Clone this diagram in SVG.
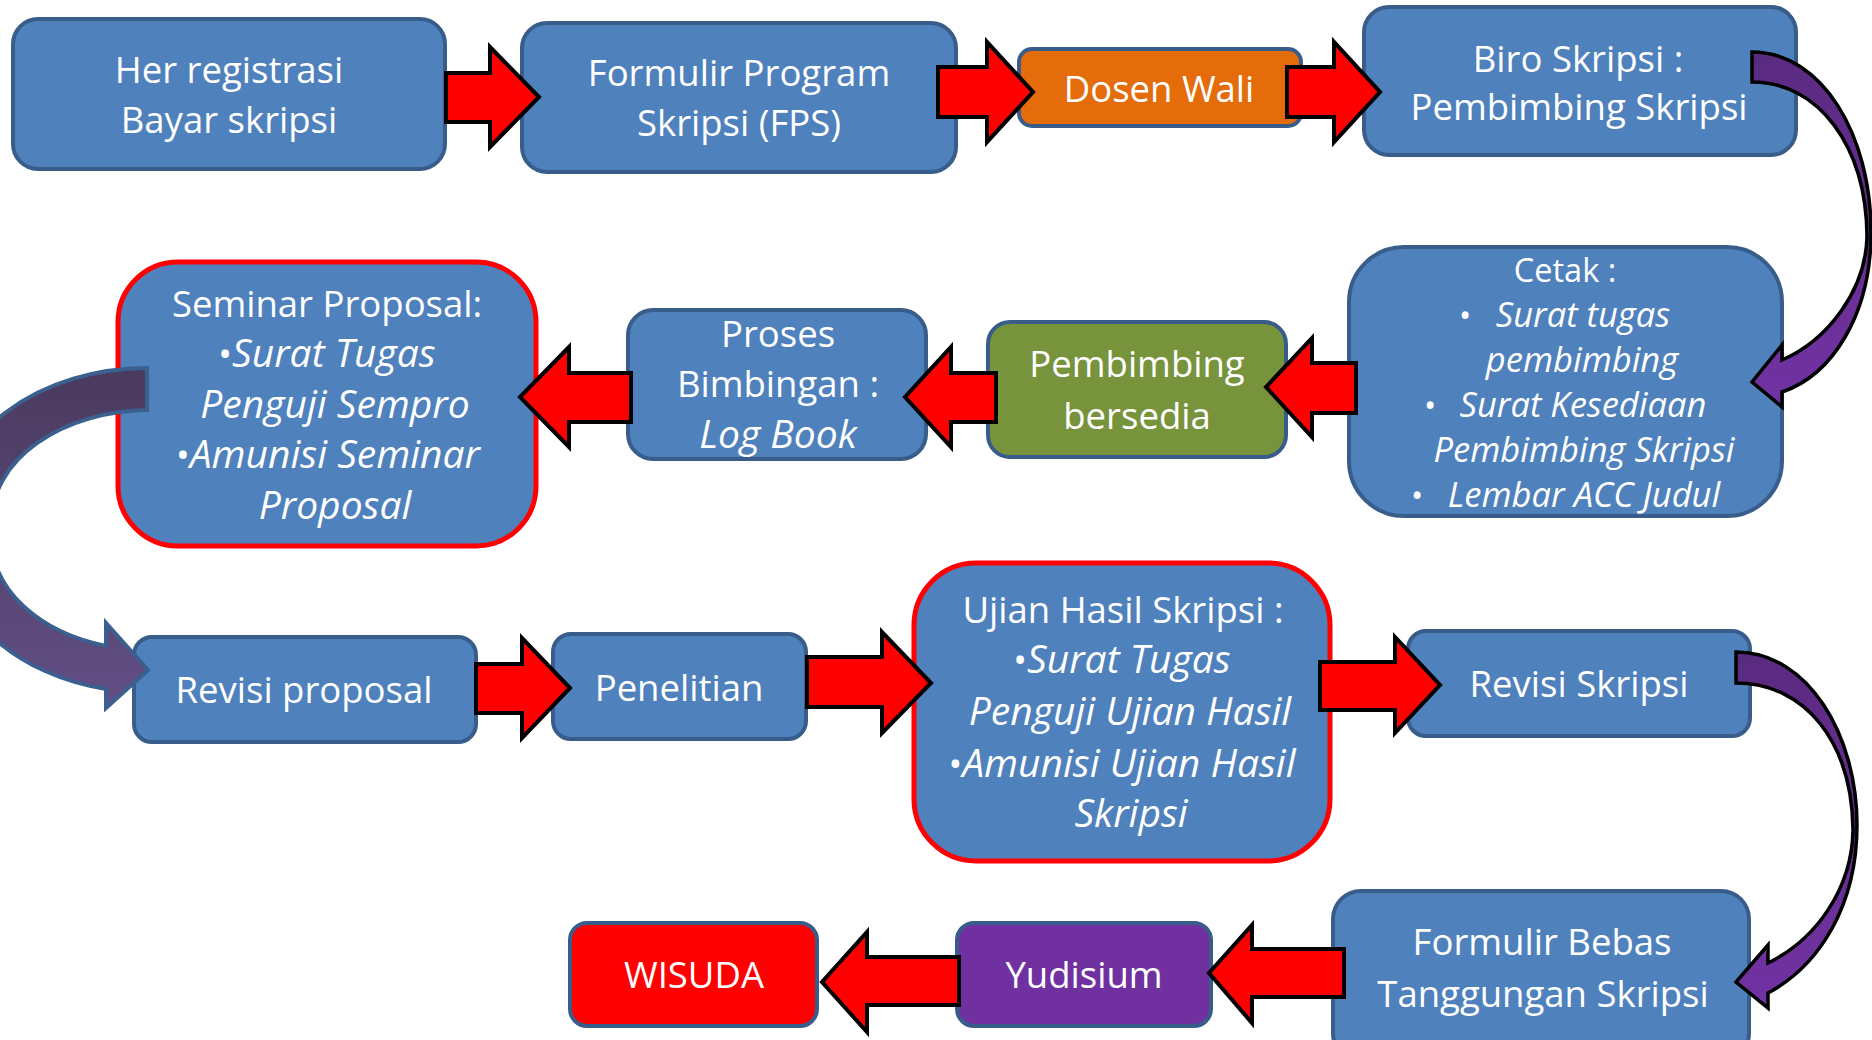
<svg xmlns="http://www.w3.org/2000/svg" width="1872" height="1040" viewBox="0 0 1872 1040">
<defs>
<style>
.box{stroke:#385d8a;stroke-width:4}
.blue{fill:#4f81bd}
.redb{fill:#4f81bd;stroke:#ff0000;stroke-width:5}
.t{font-family:"Open Sans","Noto Sans",sans-serif;font-size:36.5px;fill:#ffffff;text-anchor:middle}
.i{font-style:italic;font-size:39px}
.s{font-size:32.5px}
.si{font-style:italic;font-size:34.5px}
.ra{fill:#ff0000;stroke:#000000;stroke-width:4;stroke-linejoin:miter}
.pa{stroke:#000000;stroke-width:3.5;stroke-linejoin:miter}
</style>
<linearGradient id="gp1" gradientUnits="userSpaceOnUse" x1="0" y1="50" x2="0" y2="410">
<stop offset="0" stop-color="#5a2a80"/><stop offset="1" stop-color="#7232a3"/>
</linearGradient>
<linearGradient id="gp3" gradientUnits="userSpaceOnUse" x1="0" y1="650" x2="0" y2="1010">
<stop offset="0" stop-color="#5a2a80"/><stop offset="1" stop-color="#7232a3"/>
</linearGradient>
<linearGradient id="gp2" gradientUnits="userSpaceOnUse" x1="0" y1="365" x2="0" y2="710">
<stop offset="0" stop-color="#4a3a5e"/><stop offset="1" stop-color="#624e84"/>
</linearGradient>
</defs>
<rect width="1872" height="1040" fill="#ffffff"/>

<g id="n1"><rect class="box blue" x="13" y="19" width="432" height="150" rx="25"/>
<text class="t" x="229" y="83">Her registrasi</text><text class="t" x="229" y="133">Bayar skripsi</text></g>

<g id="n2"><rect class="box blue" x="522" y="23" width="434" height="149" rx="25"/>
<text class="t" x="739" y="86">Formulir Program</text><text class="t" x="739" y="136">Skripsi (FPS)</text></g>

<g id="n3"><rect class="box" fill="#e46c0a" x="1019" y="49" width="282" height="77" rx="13"/>
<text class="t" x="1159" y="102">Dosen Wali</text></g>

<g id="n4"><rect class="box blue" x="1364" y="7" width="432" height="148" rx="25"/>
<text class="t" x="1578" y="72">Biro Skripsi :</text><text class="t" x="1579" y="120">Pembimbing Skripsi</text></g>

<g id="n5"><rect class="box blue" x="1349" y="247" width="433" height="269" rx="55"/>
<text class="t s" x="1565" y="282">Cetak :</text>
<text class="t s" x="1465" y="327">•</text><text class="t si" x="1583" y="327">Surat tugas</text>
<text class="t si" x="1582" y="372">pembimbing</text>
<text class="t s" x="1430" y="417">•</text><text class="t si" x="1583" y="417">Surat Kesediaan</text>
<text class="t si" x="1584" y="462">Pembimbing Skripsi</text>
<text class="t s" x="1417" y="507">•</text><text class="t si" x="1584" y="507">Lembar ACC Judul</text></g>

<g id="n6"><rect class="box" fill="#77933c" x="988" y="322" width="298" height="135" rx="22"/>
<text class="t" x="1137" y="377">Pembimbing</text><text class="t" x="1137" y="429">bersedia</text></g>

<g id="n7"><rect class="box blue" x="628" y="310" width="298" height="149" rx="25"/>
<text class="t" x="778" y="347">Proses</text><text class="t" x="778" y="397">Bimbingan :</text><text class="t i" x="778" y="448">Log Book</text></g>

<g id="n8"><rect class="redb" x="118" y="262" width="418" height="284" rx="60"/>
<text class="t" x="327" y="317">Seminar Proposal:</text>
<text class="t" x="327" y="367">•<tspan class="i">Surat Tugas</tspan></text>
<text class="t i" x="335" y="418">Penguji Sempro</text>
<text class="t" x="328" y="468">•<tspan class="i">Amunisi Seminar</tspan></text>
<text class="t i" x="335" y="519">Proposal</text></g>

<g id="n9"><rect class="box blue" x="134" y="637" width="342" height="105" rx="18"/>
<text class="t" x="304" y="703">Revisi proposal</text></g>

<g id="n10"><rect class="box blue" x="553" y="634" width="253" height="105" rx="18"/>
<text class="t" x="679" y="701">Penelitian</text></g>

<g id="n11"><rect class="redb" x="914" y="563" width="416" height="298" rx="62"/>
<text class="t" x="1123" y="623">Ujian Hasil Skripsi :</text>
<text class="t" x="1122" y="673">•<tspan class="i">Surat Tugas</tspan></text>
<text class="t i" x="1130" y="725">Penguji Ujian Hasil</text>
<text class="t" x="1122" y="777">•<tspan class="i">Amunisi Ujian Hasil</tspan></text>
<text class="t i" x="1131" y="827">Skripsi</text></g>

<g id="n12"><rect class="box blue" x="1408" y="631" width="342" height="105" rx="18"/>
<text class="t" x="1579" y="697">Revisi Skripsi</text></g>

<g id="n13"><rect class="box blue" x="1333" y="891" width="416" height="170" rx="28"/>
<text class="t" x="1542" y="955">Formulir Bebas</text><text class="t" x="1543" y="1007">Tanggungan Skripsi</text></g>

<g id="n14"><rect class="box" fill="#7030a0" x="957" y="923" width="254" height="103" rx="17"/>
<text class="t" x="1084" y="988">Yudisium</text></g>

<g id="n15"><rect class="box" fill="#ff0000" x="570" y="923" width="247" height="103" rx="17"/>
<text class="t" x="694" y="988">WISUDA</text></g>

<g id="connectors">
<polygon class="ra" points="446,73 490,73 490,47 539,97 490,147 490,122 446,122"/>
<polygon class="ra" points="938,67 987,67 987,42 1033,92 987,142 987,117 938,117"/>
<polygon class="ra" points="1287,67 1334,67 1334,42 1380,92 1334,142 1334,117 1287,117"/>
<path class="pa" fill="url(#gp1)" d="M1752,52 C1822,52 1871,135 1871,232 C1871,315 1832,375 1782,392 L1782,407 L1752,382 L1782,345 L1782,360 C1828,340 1866,290 1867,236 C1866,145 1818,82 1752,82 Z"/>
<polygon class="ra" points="1356,363 1312,363 1312,338 1266,387 1312,437 1312,413 1356,413"/>
<polygon class="ra" points="996,373 951,373 951,347 905,397 951,447 951,422 996,422"/>
<polygon class="ra" points="631,373 569,373 569,347 520,397 569,447 569,422 631,422"/>
<path fill="url(#gp2)" stroke="#3b5f8e" stroke-width="4" d="M147,368 A200,152 0 0 0 -53,520 L-8,520 A158,110 0 0 1 147,410 Z"/>
<path fill="url(#gp2)" stroke="#3b5f8e" stroke-width="4" stroke-linejoin="miter" d="M-8,540 A158,110 0 0 0 106,646 L106,623 L148,670 L106,708 L106,689 A200,152 0 0 1 -53,540 Z"/>
<polygon class="ra" points="476,664 522,664 522,638 570,688 522,738 522,713 476,713"/>
<polygon class="ra" points="807,657 882,657 882,632 931,683 882,733 882,707 807,707"/>
<polygon class="ra" points="1320,662 1395,662 1395,637 1440,685 1395,733 1395,710 1320,710"/>
<path class="pa" fill="url(#gp3)" d="M1736,652 C1808,652 1857,735 1857,825 C1857,905 1820,965 1768,993 L1768,1008 L1736,982 L1768,945 L1768,963 C1815,940 1852,890 1853,830 C1852,742 1805,683 1736,683 Z"/>
<polygon class="ra" points="1344,949 1252,949 1252,925 1209,973 1252,1023 1252,997 1344,997"/>
<polygon class="ra" points="959,957 867,957 867,932 822,982 867,1032 867,1005 959,1005"/>
</g>
</svg>
